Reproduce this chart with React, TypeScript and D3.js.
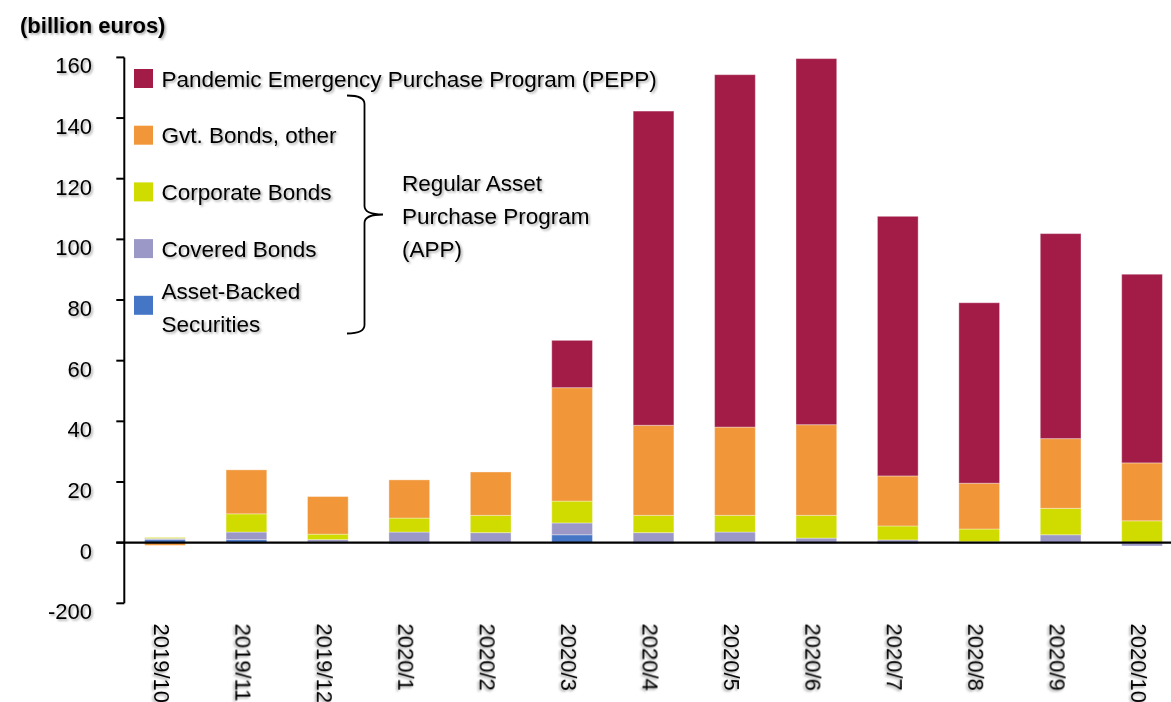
import React from "react";
import * as d3 from "d3";

const categories = ["2019/10","2019/11","2019/12","2020/1","2020/2","2020/3","2020/4","2020/5","2020/6","2020/7","2020/8","2020/9","2020/10"];
const absValues = [1.0, 1.0, 0.2, -0.3, -0.1, 2.6, -0.3, 0.0, -0.2, -0.3, -0.2, -0.1, -0.3];
const coveredValues = [0.4, 2.5, 0.8, 3.5, 3.3, 3.9, 3.3, 3.5, 1.5, 0.9, 0.3, 2.6, -0.8];
const corporateValues = [0.3, 6.0, 1.8, 4.6, 5.7, 7.2, 5.7, 5.5, 7.5, 4.6, 4.2, 8.7, 7.2];
const gvtValues = [-0.9, 14.5, 12.4, 12.6, 14.3, 37.4, 29.7, 29.1, 29.9, 16.5, 15.1, 23.0, 19.1];
const peppValues = [0, 0, 0, 0, 0, 15.6, 103.6, 116.2, 120.7, 85.6, 59.5, 67.6, 62.2];

const yTickValues = [160, 140, 120, 100, 80, 60, 40, 20, 0, -20];
const yTickLabels = ["160", "140", "120", "100", "80", "60", "40", "20", "0", "-200"];

const seriesKeys = ["abs", "covered", "corp", "gvt", "pepp"];
const seriesColors: Record<string, string> = {
  abs: "#4575C5",
  covered: "#9B98C8",
  corp: "#D0DC00",
  gvt: "#F1973A",
  pepp: "#A21C47",
};
const legendItems = [
  { key: "pepp", lines: ["Pandemic Emergency Purchase Program (PEPP)"] },
  { key: "gvt", lines: ["Gvt. Bonds, other"] },
  { key: "corp", lines: ["Corporate Bonds"] },
  { key: "covered", lines: ["Covered Bonds"] },
  { key: "abs", lines: ["Asset-Backed", "Securities"] },
];
const bracketLabel = ["Regular Asset", "Purchase Program", "(APP)"];
const unitLabel = "(billion euros)";

const FONT = "'Liberation Sans', Arial, sans-serif";

export default function App() {
  const W = 1171, H = 702;
  const axisX = 124.3;
  const step = 81.42;
  const x = d3.scaleBand<string>()
    .domain(categories)
    .range([axisX, axisX + step * categories.length])
    .paddingInner(0.5)
    .paddingOuter(0.25);
  const y = d3.scaleLinear().domain([-20, 160]).range([603.3, 57.4]);

  const rows = categories.map((c, i) => ({
    cat: c,
    abs: absValues[i],
    covered: coveredValues[i],
    corp: corporateValues[i],
    gvt: gvtValues[i],
    pepp: peppValues[i],
  }));
  const stacked = d3.stack<any>().keys(seriesKeys).offset(d3.stackOffsetDiverging)(rows);

  const legendTop = 69;
  const legendGap = 56.7;

  return (
    <svg width={W} height={H} style={{ position: "absolute", left: 0, top: 0, display: "block", background: "#fff" }} fontFamily={FONT}>
      <defs>
        <filter id="ts" x="-10%" y="-30%" width="130%" height="180%">
          <feDropShadow dx="1.6" dy="1.6" stdDeviation="1.1" floodColor="#000" floodOpacity="0.35" />
        </filter>
      </defs>

      {/* bars */}
      {stacked.map((s) => (
        <g key={s.key} fill={seriesColors[s.key]}>
          {s.map((d, i) => {
            const y0 = y(d[0]);
            const y1 = y(d[1]);
            const h = Math.abs(y0 - y1);
            if (h < 0.01) return null;
            return (
              <rect
                key={i}
                x={x(categories[i])!}
                y={Math.min(y0, y1)}
                width={x.bandwidth()}
                height={h}
                stroke="rgba(255,255,255,0.35)"
                strokeWidth={1}
              />
            );
          })}
        </g>
      ))}

      {/* y axis */}
      <line x1={axisX} x2={axisX} y1={y(160)} y2={y(-20)} stroke="#000" strokeWidth={2} />
      {yTickValues.map((v, i) => (
        <g key={v}>
          <line x1={axisX - 8} x2={axisX} y1={y(v)} y2={y(v)} stroke="#000" strokeWidth={2} />
          <text x={92} y={y(v) + 16} textAnchor="end" fontSize={22} fill="#000" filter="url(#ts)">
            {yTickLabels[i]}
          </text>
        </g>
      ))}
      {/* zero line */}
      <line x1={axisX - 8} x2={W} y1={y(0)} y2={y(0)} stroke="#000" strokeWidth={2.2} />

      {/* x labels */}
      {categories.map((c) => {
        const cx = x(c)! + x.bandwidth() / 2;
        const bx = cx - 10.5;
        const by = 623.5;
        return (
          <text key={c} x={bx} y={by} transform={`rotate(90 ${bx} ${by})`} fontSize={22} fill="#000" filter="url(#ts)">
            {c}
          </text>
        );
      })}

      {/* unit label */}
      <text x={20} y={33} fontSize={22} fontWeight="bold" fill="#000" filter="url(#ts)">{unitLabel}</text>

      {/* legend */}
      {legendItems.map((it, i) => {
        const top = legendTop + i * legendGap;
        const multi = it.lines.length > 1;
        return (
          <g key={it.key}>
            <rect x={134} y={top} width={19} height={19} fill={seriesColors[it.key]} />
            {it.lines.map((ln, j) => (
              <text
                key={j}
                x={161.5}
                y={multi ? top + 3.5 + j * 32.5 : top + 17.5}
                fontSize={22.5}
                fill="#000"
                filter="url(#ts)"
              >
                {ln}
              </text>
            ))}
          </g>
        );
      })}

      {/* bracket */}
      <path
        d="M347,95.5 Q364.5,95.5 364.5,104 L364.5,206 Q364.5,214.5 383,214.5 Q364.5,214.5 364.5,223 L364.5,325 Q364.5,333.5 347,333.5"
        fill="none"
        stroke="#000"
        strokeWidth={1.8}
      />
      {bracketLabel.map((ln, j) => (
        <text key={j} x={402} y={191 + j * 33} fontSize={22.5} fill="#000" filter="url(#ts)">
          {ln}
        </text>
      ))}
    </svg>
  );
}
